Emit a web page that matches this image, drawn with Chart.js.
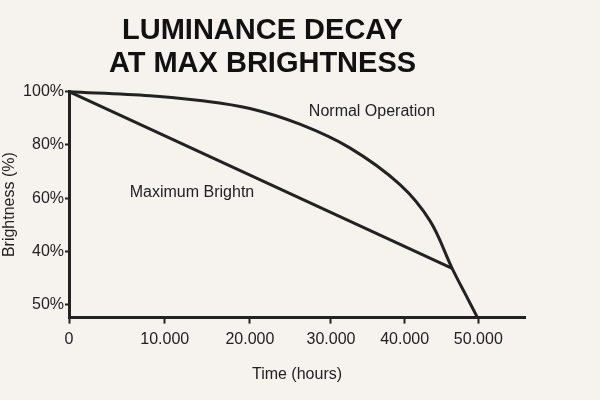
<!DOCTYPE html>
<html>
<head>
<meta charset="utf-8">
<script src="https://cdn.jsdelivr.net/npm/chart.js@4/dist/chart.umd.min.js"></script>
<style>
  body { margin: 0; background: #f6f3ee; }
  #wrap { width: 600px; height: 400px; }
</style>
</head>
<body>
<div id="wrap"><canvas id="chart"></canvas></div>
<script>
// values
const normalHours = [0, 9900, 16000, 22100, 28200, 34300, 40400, 44100, 46800, 48400, 49900];
const normalBrightness = [100, 98.5, 96.7, 93.7, 87.8, 78.9, 65.2, 51.5, 33.7, 24.1, 15.2];
const maxHours = [0, 46800];
const maxBrightness = [100, 33.7];
const xTickValues = [0, 11700, 22100, 32000, 41000, 50000];
const xTickLabels = ["0", "10.000", "20.000", "30.000", "40.000", "50.000"];
const yTickValues = [100, 80, 60, 40, 20];
const yTickLabels = ["100%", "80%", "60%", "40%", "50%"];

const ink = "#222";
const font = "'Liberation Sans', Arial, sans-serif";

const toPoints = (xs, ys) => xs.map((x, i) => ({ x: x, y: ys[i] }));

const labelsPlugin = {
  id: "labels",
  afterDraw(chart) {
    const ctx = chart.ctx;
    ctx.save();
    ctx.fillStyle = ink;
    ctx.font = "16px " + font;
    ctx.textAlign = "center";
    ctx.textBaseline = "middle";
    ctx.fillText("Normal Operation", 372, 112);
    ctx.fillText("Maximum Brightn", 192, 193);
    ctx.restore();
  }
};

new Chart(document.querySelector("#chart").getContext("2d"), {
  type: "line",
  data: {
    datasets: [
      {
        label: "Normal Operation",
        data: toPoints(normalHours, normalBrightness),
        borderColor: ink,
        borderWidth: 3,
        pointRadius: 0,
        tension: 0.35,
        fill: false,
      },
      {
        label: "Maximum Brightness",
        data: toPoints(maxHours, maxBrightness),
        borderColor: ink,
        borderWidth: 3,
        pointRadius: 0,
        fill: false,
      },
    ],
  },
  options: {
    responsive: true,
    maintainAspectRatio: false,
    animation: false,
    layout: { padding: { left: 0, right: 75, top: 0, bottom: 12 } },
    plugins: {
      legend: { display: false },
      tooltip: { enabled: false },
      title: {
        display: true,
        text: ["LUMINANCE DECAY", "AT MAX BRIGHTNESS"],
        color: "#111",
        font: { family: font, size: 29, weight: "bold", lineHeight: 1.15 },
        padding: { top: 14, bottom: 11 },
      },
    },
    scales: {
      x: {
        type: "linear",
        min: 0,
        max: 55700,
        afterBuildTicks: (axis) => { axis.ticks = xTickValues.map(v => ({ value: v })); },
        ticks: {
          color: ink,
          font: { family: font, size: 16 },
          maxRotation: 0,
          autoSkip: false,
          padding: 6,
          callback: (v) => xTickLabels[xTickValues.indexOf(v)],
        },
        grid: { drawOnChartArea: false, color: ink, tickLength: 6, tickWidth: 2 },
        border: { color: ink, width: 3 },
        title: { display: true, text: "Time (hours)", color: ink, font: { family: font, size: 16 }, padding: { top: 10 } },
      },
      y: {
        min: 15.2,
        max: 100,
        afterBuildTicks: (axis) => { axis.ticks = yTickValues.map(v => ({ value: v })); },
        ticks: {
          color: ink,
          font: { family: font, size: 16 },
          autoSkip: false,
          padding: 1,
          callback: (v) => yTickLabels[yTickValues.indexOf(v)],
        },
        grid: { drawOnChartArea: false, color: ink, tickLength: 4, tickWidth: 2 },
        border: { color: ink, width: 3 },
        title: { display: true, text: "Brightness (%)", color: ink, font: { family: font, size: 16 }, padding: { top: 0, bottom: 0 } },
        afterFit: (axis) => { axis.width = 69; },
      },
    },
    clip: false,
  },
  plugins: [labelsPlugin],
});
</script>
</body>
</html>
